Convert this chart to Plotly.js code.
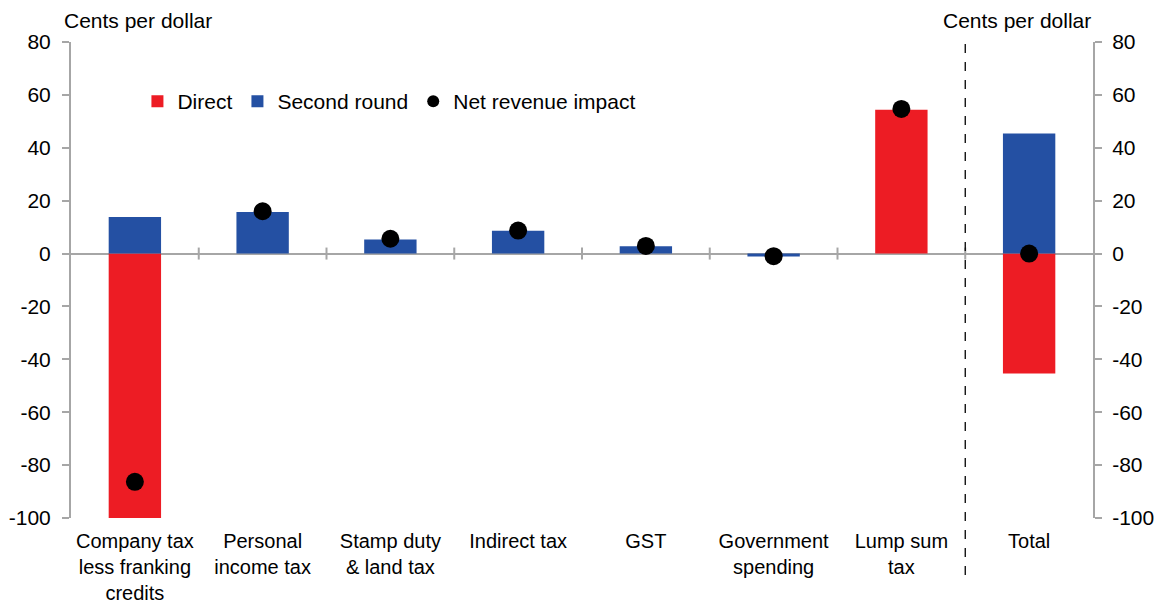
<!DOCTYPE html>
<html><head><meta charset="utf-8">
<script src="https://cdn.plot.ly/plotly-3.0.1.min.js"></script>
<style>html,body{margin:0;padding:0;background:#fff}#c{width:1163px;height:603px}</style>
</head><body><div id="c"></div>
<script>
const categories = ["Company tax<br>less franking<br>credits","Personal<br>income tax","Stamp duty<br>& land tax","Indirect tax","GST","Government<br>spending","Lump sum<br>tax","Total"];
const direct = [-100, 0, 0, 0, 0, 0, 54.4, -45.4];
const secondRound = [13.8, 15.7, 5.3, 8.6, 2.8, -1.1, 0, 45.4];
const netImpact = [-86.3, 16, 5.6, 8.7, 2.9, -1.0, 54.7, 0];
const yTicks = [-100,-80,-60,-40,-20,0,20,40,60,80];
const yTickText = ["-100","-80","-60","-40","-20","0","20","40","60","80"];
const axisTitle = "Cents per dollar";

const RED = '#ED1C24', BLUE = '#2450A3', GREY = '#A6A6A6';
const FONT = {family: 'Liberation Sans, Arial, sans-serif', size: 21, color: '#000'};

const xIdx = categories.map((c,i)=>i);
const traces = [
  {type:'bar', name:'Direct', x:xIdx, y:direct, marker:{color:RED}},
  {type:'bar', name:'Second round', x:xIdx, y:secondRound, marker:{color:BLUE}},
  {type:'scatter', mode:'markers', name:'Net revenue impact', x:xIdx, y:netImpact, yaxis:'y2',
   marker:{color:'#000', size:18}}
];

const boundaries = categories.slice(1).map((c,i)=>i+0.5);
const shapes = boundaries.map(b=>({type:'line', xref:'x', yref:'y', ysizemode:'pixel', yanchor:0,
  x0:b, x1:b, y0:-6, y1:6, line:{color:GREY, width:2}}));
shapes.push({type:'line', xref:'x', yref:'paper', x0:6.5, x1:6.5, y0:-0.12, y1:1.0,
  line:{color:'#000', width:1.3, dash:'dash'}});

const yCommon = {range:[-100,80], tickvals:yTicks, ticktext:yTickText, showgrid:false, showline:true, linecolor:GREY, linewidth:2,
  ticks:'outside', ticklen:7, tickcolor:GREY, tickwidth:2, tickfont:FONT, zeroline:false, fixedrange:true};

const layout = {
  width:1163, height:603,
  margin:{l:70.5, r:70, t:41.5, b:85.3, pad:0},
  paper_bgcolor:'#fff', plot_bgcolor:'#fff',
  font:FONT,
  barmode:'relative', bargap:0.59,
  showlegend:true,
  legend:{orientation:'h', x:0.065, y:0.875, xanchor:'left', yanchor:'middle', font:FONT, bgcolor:'rgba(0,0,0,0)', traceorder:'normal', itemsizing:'constant'},
  xaxis:{range:[-0.5,7.5], tickvals:xIdx, ticktext:categories, showgrid:false, zeroline:false, showline:false,
    ticks:'outside', ticklen:5, tickcolor:'rgba(0,0,0,0)', tickfont:Object.assign({}, FONT, {size:20}), fixedrange:true},
  yaxis:Object.assign({}, yCommon, {zeroline:true, zerolinecolor:GREY, zerolinewidth:2, ticklabelstandoff:7}),
  yaxis2:Object.assign({}, yCommon, {overlaying:'y', side:'right', ticklabelstandoff:6}),
  shapes:shapes,
  annotations:[
    {text:axisTitle, xref:'paper', yref:'paper', x:0, y:1, xanchor:'left', yanchor:'bottom', xshift:-9, yshift:8, showarrow:false, font:FONT},
    {text:axisTitle, xref:'paper', yref:'paper', x:1, y:1, xanchor:'right', yanchor:'bottom', xshift:0, yshift:8, showarrow:false, font:FONT}
  ]
};
Plotly.newPlot('c', traces, layout, {displayModeBar:false, staticPlot:true});
</script></body></html>
